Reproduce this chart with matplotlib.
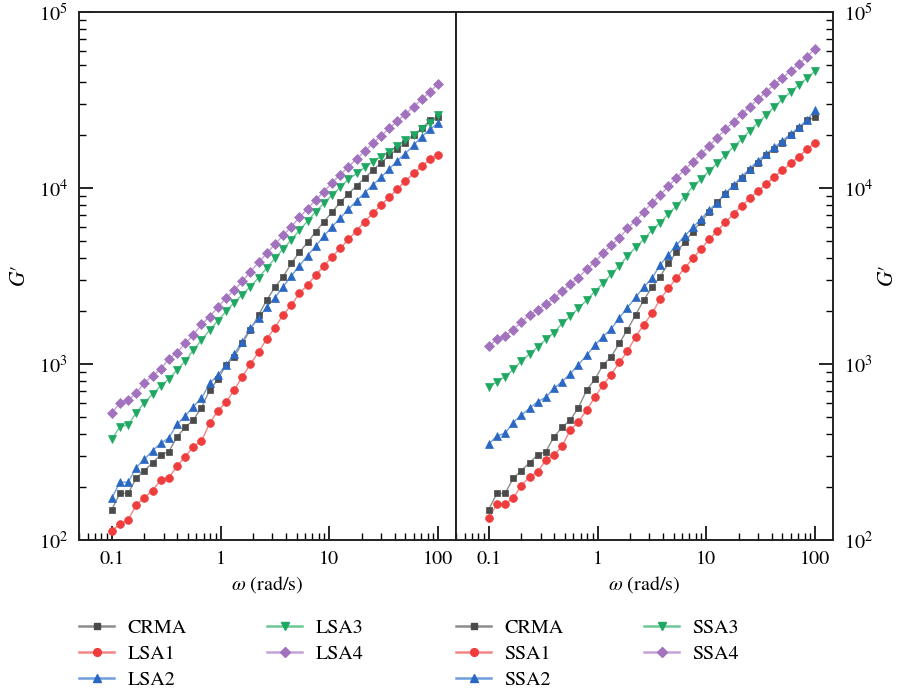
import matplotlib
matplotlib.use("Agg")
import matplotlib.pyplot as plt
from matplotlib.ticker import LogLocator, NullFormatter, FixedLocator
from matplotlib.lines import Line2D

plt.rcParams['font.family'] = ['STIXGeneral', 'DejaVu Serif']
plt.rcParams['mathtext.fontset'] = 'stix'

# angular frequency (rad/s)
omega = [0.1, 0.1189, 0.1413, 0.1679, 0.1995, 0.2371, 0.2818, 0.335, 0.3981, 0.4732,
         0.5623, 0.6683, 0.7943, 0.9441, 1.122, 1.334, 1.585, 1.884, 2.239, 2.661,
         3.162, 3.758, 4.467, 5.309, 6.31, 7.499, 8.913, 10.59, 12.59, 14.96,
         17.78, 21.13, 25.12, 29.85, 35.48, 42.17, 50.12, 59.57, 70.79, 84.14, 100.0]

# storage modulus G'
crma = [149, 184, 184, 224, 248, 275, 304, 318, 386, 437, 481, 565, 711, 818, 986,
        1100, 1310, 1570, 1900, 2310, 2730, 3130, 3730, 4320, 4910, 5650, 6440, 7280,
        8280, 9250, 10300, 11400, 12600, 13900, 15300, 16700, 18100, 20000, 21800,
        24200, 25200]
lsa1 = [113, 123, 130, 158, 174, 191, 219, 226, 263, 297, 339, 366, 460, 543, 605,
        711, 847, 1000, 1170, 1390, 1610, 1900, 2160, 2520, 2810, 3210, 3610, 4070,
        4540, 5100, 5730, 6440, 7180, 8000, 8850, 9820, 11000, 12100, 13300, 14600, 15400]
lsa2 = [173, 213, 213, 258, 288, 322, 354, 381, 454, 507, 573, 638, 776, 866, 986,
        1140, 1340, 1600, 1820, 2120, 2380, 2750, 3160, 3620, 4130, 4680, 5330, 6030,
        6730, 7570, 8430, 9400, 10400, 11500, 12800, 14300, 15700, 17500, 19600, 21500, 23500]
lsa3 = [373, 441, 450, 528, 603, 673, 750, 822, 925, 1040, 1200, 1370, 1560, 1760,
        1990, 2230, 2480, 2750, 3100, 3520, 3980, 4500, 5070, 5750, 6490, 7350, 8190,
        9120, 10100, 11200, 12100, 13100, 14100, 15100, 16100, 17300, 18700, 20000,
        21500, 23500, 26000]
lsa4 = [528, 598, 624, 681, 783, 859, 933, 1070, 1160, 1310, 1460, 1680, 1860, 2100,
        2370, 2630, 2950, 3350, 3780, 4260, 4790, 5380, 6030, 6810, 7640, 8550, 9530,
        10700, 11900, 13200, 14600, 16200, 17900, 19800, 21800, 24000, 26300, 29000,
        31900, 35200, 39200]
ssa1 = [133, 160, 160, 173, 204, 229, 244, 285, 304, 342, 422, 470, 548, 647, 760,
        871, 1020, 1180, 1430, 1670, 1940, 2330, 2690, 3070, 3500, 3980, 4490, 5110,
        5710, 6380, 7110, 7940, 8730, 9660, 10500, 11600, 12600, 13800, 15100, 16600, 18100]
ssa2 = [351, 390, 404, 465, 513, 560, 611, 647, 728, 794, 879, 993, 1120, 1280, 1430,
        1580, 1830, 2090, 2390, 2740, 3070, 3650, 4160, 4740, 5330, 5970, 6650, 7460,
        8260, 9330, 10400, 11600, 12900, 14300, 15600, 17000, 18600, 20300, 22100, 24300, 27700]
ssa3 = [736, 794, 847, 933, 1040, 1140, 1250, 1380, 1510, 1700, 1870, 2070, 2310, 2580,
        2880, 3230, 3610, 4110, 4600, 5110, 5770, 6350, 7110, 7910, 8930, 10200, 11200,
        12500, 13800, 15400, 17200, 18900, 21200, 23500, 26000, 29000, 31900, 35200,
        38500, 42000, 46200]
ssa4 = [1260, 1380, 1440, 1570, 1730, 1900, 2030, 2180, 2360, 2600, 2830, 3100, 3450,
        3810, 4260, 4740, 5180, 5900, 6520, 7350, 8190, 9120, 10200, 11400, 12700, 14100,
        15600, 17300, 19300, 21500, 23800, 26300, 29000, 31900, 35200, 38800, 42000,
        46500, 50500, 55700, 61700]

left_labels = ['CRMA', 'LSA1', 'LSA2', 'LSA3', 'LSA4']
right_labels = ['CRMA', 'SSA1', 'SSA2', 'SSA3', 'SSA4']
left_series = [crma, lsa1, lsa2, lsa3, lsa4]
right_series = [crma, ssa1, ssa2, ssa3, ssa4]
xtick_vals = [0.1, 1, 10, 100]
xtick_labels = ['0.1', '1', '10', '100']
ytick_vals = [1e2, 1e3, 1e4, 1e5]
ytick_labels = [r'$10^2$', r'$10^3$', r'$10^4$', r'$10^5$']

marker_colors = ['#4a4a4a', '#ef3d3d', '#2a68c4', '#1ea862', '#a372bf']
line_colors = ['#8c8c8c', '#f48585', '#6f9edb', '#6cc897', '#c4a2d8']
markers = ['s', 'o', '^', 'v', 'D']
msizes = [5.0, 5.6, 6.4, 6.4, 4.8]

fig = plt.figure(figsize=(9.02, 6.92), dpi=100)
W, H = 902, 692
axL = fig.add_axes([79 / W, 152 / H, 377 / W, 528 / H])
axR = fig.add_axes([456 / W, 152 / H, 377 / W, 528 / H])

FS = 14.5
YLAB = r'$G\prime$'


def draw(ax, series, labels):
    handles = []
    for s, lab, mc, lc, mk, ms in zip(series, labels, marker_colors, line_colors, markers, msizes):
        ax.plot(omega, s, color=lc, lw=1.0, zorder=2)
        ax.plot(omega, s, ls='none', marker=mk, ms=ms, mfc=mc, mec=mc, mew=0.5, zorder=3)
        handles.append(Line2D([], [], color=lc, lw=1.8, marker=mk, ms=ms, mfc=mc, mec=mc, label=lab))
    ax.set_xscale('log')
    ax.set_yscale('log')
    ax.set_xlim(0.05, 146)
    ax.set_ylim(100, 1e5)
    ax.xaxis.set_major_locator(FixedLocator(xtick_vals))
    ax.set_xticklabels(xtick_labels)
    ax.xaxis.set_minor_locator(LogLocator(base=10, subs=range(2, 10), numticks=20))
    ax.xaxis.set_minor_formatter(NullFormatter())
    ax.yaxis.set_major_locator(FixedLocator(ytick_vals))
    ax.yaxis.set_minor_locator(LogLocator(base=10, subs=range(2, 10), numticks=20))
    ax.yaxis.set_minor_formatter(NullFormatter())
    ax.tick_params(which='major', direction='in', length=10, width=1.2, labelsize=FS, pad=8)
    ax.tick_params(which='minor', direction='in', length=5, width=1.0)
    for sp in ax.spines.values():
        sp.set_linewidth(1.4)
        sp.set_color('#222222')
    ax.set_xlabel(r'$\omega$ (rad/s)', fontsize=FS)
    ax.xaxis.set_label_coords(0.5, -0.065)
    return handles


hL = draw(axL, left_series, left_labels)
hR = draw(axR, right_series, right_labels)

axL.tick_params(axis='both', which='both', top=False, right=False)
axL.set_yticklabels(ytick_labels)
axL.set_ylabel(YLAB, fontsize=FS + 1, va='center')
axL.yaxis.set_label_coords(-0.155, 0.5)

axR.tick_params(axis='both', which='both', top=False)
axR.tick_params(axis='y', which='both', left=False, right=True, labelleft=False, labelright=True)
axR.set_yticklabels(ytick_labels)
axR.yaxis.set_label_position('right')
axR.set_ylabel(YLAB, fontsize=FS + 1, rotation=90, va='center')
axR.yaxis.set_label_coords(1.147, 0.5)

legkw = dict(ncol=2, frameon=False, fontsize=FS, handlelength=1.75, handletextpad=0.65,
             columnspacing=4.0, labelspacing=0.40, borderaxespad=0, borderpad=0,
             loc='upper left')
fig.legend(handles=hL, bbox_to_anchor=(79 / W, 1 - 619 / H), **legkw)
fig.legend(handles=hR, bbox_to_anchor=(456 / W, 1 - 619 / H), **legkw)

fig.savefig('out.png', dpi=100)
